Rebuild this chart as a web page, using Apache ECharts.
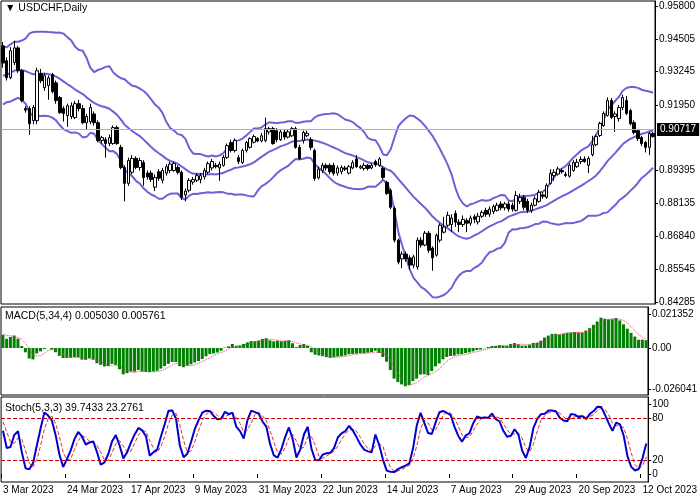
<!DOCTYPE html>
<html><head><meta charset="utf-8">
<script src="https://cdn.jsdelivr.net/npm/echarts@6/dist/echarts.min.js"></script>
<style>html,body{margin:0;padding:0;background:#fff}#c{width:700px;height:500px}</style>
</head><body><div id="c"></div>
<script>
// history before the visible window (used only to warm up the indicators)
const histClose = [0.9250,0.9230,0.9260,0.9210,0.9190,0.9220,0.9240,0.9200,0.9180,0.9150,0.9170,0.9200,0.9230,0.9210,0.9240,0.9250,0.9230,0.9200,0.9180,0.9160,0.9190,0.9230,0.9260,0.9240,0.9270,0.9250,0.9230,0.9260,0.9290,0.9310,0.9280,0.9300,0.9330,0.9310,0.9350,0.9340,0.9370,0.9400,0.9380,0.9420];
// visible candles [open, close, low, high]
const candles = [
[.9425,.9358,.9340,.9440],[.9367,.9301,.9290,.9380],[.9301,.9406,.9295,.9420],[.9360,.9417,.9350,.9445],[.9417,.9328,.9320,.9425],
[.9328,.9212,.9205,.9335],[.9181,.9175,.9165,.9190],[.9181,.9122,.9080,.9190],[.9134,.9185,.9120,.9195],[.9134,.9328,.9120,.9340],
[.9317,.9289,.9280,.9335],[.9262,.9309,.9250,.9320],[.9270,.9300,.9215,.9310],[.9313,.9247,.9240,.9320],[.9281,.9212,.9200,.9290],
[.9224,.9165,.9160,.9230],[.9181,.9162,.9130,.9190],[.9154,.9192,.9110,.9200],[.9150,.9192,.9140,.9205],[.9146,.9200,.9140,.9210],
[.9200,.9181,.9170,.9215],[.9181,.9126,.9120,.9195],[.9126,.9150,.9100,.9160],[.9130,.9185,.9120,.9200],[.9160,.9126,.9115,.9170],
[.9126,.9057,.9050,.9135],[.9057,.9068,.9045,.9075],[.9060,.9045,.8990,.9070],[.9045,.9068,.9035,.9080],[.9045,.9107,.9040,.9115],
[.9107,.9045,.9040,.9115],[.9030,.8952,.8945,.9040],[.8952,.8890,.8820,.8960],[.8890,.8979,.8880,.8990],[.8933,.8987,.8925,.9000],
[.8987,.8952,.8945,.8995],[.8952,.8979,.8940,.8990],[.8971,.8913,.8880,.8980],[.8930,.8915,.8905,.8940],[.8930,.8905,.8895,.8940],
[.8875,.8913,.8860,.8925],[.8935,.8910,.8900,.8945],[.8902,.8940,.8890,.8950],[.8930,.8955,.8920,.8965],[.8940,.8965,.8930,.8975],
[.8940,.8967,.8935,.8975],[.8952,.8933,.8925,.8960],[.8933,.8836,.8825,.8940],[.8845,.8860,.8820,.8870],[.8863,.8902,.8855,.8910],
[.8895,.8905,.8885,.8915],[.8902,.8920,.8895,.8930],[.8905,.8920,.8890,.8930],[.8915,.8940,.8905,.8950],[.8933,.8967,.8925,.8975],
[.8950,.8975,.8940,.8985],[.8960,.8955,.8948,.8970],[.8950,.8965,.8900,.8975],[.8960,.8991,.8955,.9000],[.8991,.9037,.8985,.9045],
[.9049,.9018,.9010,.9060],[.9018,.9057,.9010,.9065],[.8990,.8975,.8965,.9000],[.8971,.9018,.8965,.9025],[.9018,.9049,.9010,.9055],
[.9030,.9064,.9025,.9070],[.9050,.9072,.9045,.9080],[.9065,.9055,.9050,.9070],[.9055,.9075,.9050,.9085],[.9057,.9103,.9050,.9146],
[.9090,.9103,.9080,.9110],[.9103,.9045,.9040,.9110],[.9095,.9060,.9050,.9105],[.9060,.9090,.9055,.9100],[.9090,.9070,.9060,.9098],
[.9070,.9090,.9065,.9100],[.9075,.9103,.9070,.9110],[.9103,.9030,.9025,.9110],[.9030,.8987,.8980,.9040],[.9057,.9088,.9045,.9095],
[.9075,.9085,.9070,.9095],[.9060,.9030,.9020,.9070],[.9018,.8909,.8900,.9025],[.8912,.8945,.8905,.8955],[.8940,.8960,.8930,.8970],
[.8960,.8950,.8940,.8968],[.8960,.8935,.8925,.8968],[.8960,.8929,.8920,.8970],[.8930,.8950,.8920,.8960],[.8935,.8952,.8925,.8960],
[.8950,.8945,.8938,.8958],[.8930,.8955,.8925,.8962],[.8950,.8970,.8945,.8980],[.8985,.8955,.8950,.9000],[.8950,.8955,.8945,.8962],
[.8948,.8960,.8940,.8970],[.8960,.8948,.8940,.8965],[.8950,.8960,.8945,.8968],[.8975,.8962,.8955,.8982],[.8960,.8985,.8955,.8992],
[.8948,.8913,.8905,.8955],[.8894,.8851,.8845,.8900],[.8863,.8797,.8790,.8870],[.8793,.8669,.8660,.8800],[.8669,.8584,.8575,.8675],
[.8596,.8615,.8560,.8625],[.8615,.8596,.8585,.8625],[.8600,.8572,.8555,.8610],[.8572,.8604,.8560,.8612],[.8565,.8669,.8555,.8680],
[.8669,.8650,.8640,.8680],[.8650,.8696,.8645,.8705],[.8696,.8630,.8620,.8705],[.8638,.8600,.8550,.8645],[.8611,.8688,.8605,.8695],
[.8669,.8727,.8660,.8735],[.8700,.8720,.8695,.8760],[.8727,.8766,.8720,.8780],[.8730,.8755,.8700,.8770],[.8773,.8739,.8720,.8785],
[.8739,.8730,.8700,.8750],[.8730,.8750,.8720,.8765],[.8745,.8735,.8700,.8755],[.8735,.8755,.8725,.8765],[.8760,.8750,.8735,.8770],
[.8740,.8762,.8730,.8775],[.8762,.8777,.8755,.8785],[.8785,.8770,.8760,.8795],[.8770,.8790,.8760,.8800],[.8780,.8800,.8770,.8808],
[.8785,.8805,.8780,.8815],[.8810,.8795,.8785,.8820],[.8795,.8810,.8785,.8818],[.8810,.8790,.8780,.8820],[.8805,.8790,.8780,.8815],
[.8785,.8843,.8780,.8860],[.8820,.8835,.8810,.8850],[.8836,.8797,.8785,.8845],[.8820,.8785,.8775,.8830],[.8785,.8805,.8775,.8815],
[.8805,.8830,.8800,.8840],[.8820,.8855,.8815,.8865],[.8845,.8840,.8830,.8855],[.8836,.8882,.8830,.8890],[.8890,.8929,.8885,.8945],
[.8920,.8933,.8900,.8945],[.8926,.8946,.8920,.8955],[.8940,.8935,.8928,.8948],[.8925,.8921,.8915,.8935],[.8918,.8960,.8912,.8968],
[.8940,.8971,.8935,.8980],[.8955,.8972,.8950,.8985],[.8975,.8983,.8965,.8995],[.8985,.8975,.8970,.8995],[.8960,.8987,.8930,.8995],
[.9002,.9040,.8995,.9075],[.9040,.9072,.9035,.9080],[.9076,.9123,.9070,.9130],[.9115,.9162,.9110,.9170],[.9154,.9212,.9150,.9225],
[.9212,.9146,.9140,.9222],[.9150,.9160,.9090,.9170],[.9142,.9185,.9130,.9195],[.9185,.9224,.9175,.9235],[.9212,.9162,.9155,.9230],
[.9173,.9122,.9115,.9180],[.9126,.9088,.9080,.9135],[.9095,.9064,.9055,.9100],[.9068,.9045,.9035,.9075],[.9049,.9030,.9010,.9055],
[.9030,.9084,.9000,.9090],[.9084,.9072,.9068,.9090]
];
const tickLabels = ['3 Mar 2023','24 Mar 2023','17 Apr 2023','9 May 2023','31 May 2023','22 Jun 2023','14 Jul 2023','7 Aug 2023','29 Aug 2023','20 Sep 2023','12 Oct 2023'];
const tickIdx = [0,17,34,51,68,85,102,119,136,153,170];
const priceTicks = [0.958,0.94505,0.93245,0.9195,0.89395,0.88135,0.8684,0.85545,0.84285];
const lastPrice = 0.90717;
const macdTicks = [0.021352,0,-0.026041];
const stochTicks = [100,80,20,0];

// ---- indicators computed from the candles ----
const allC=[],allH=[],allL=[];
histClose.forEach((c,i)=>{const o=i?histClose[i-1]:c;allC.push(c);allH.push(Math.max(o,c)+0.0015);allL.push(Math.min(o,c)-0.0015);});
candles.forEach(k=>{allC.push(k[1]);allL.push(k[2]);allH.push(k[3]);});
const N=allC.length, off=histClose.length;
const up=[],mid=[],lo=[];
for(let i=0;i<N;i++){const s=allC.slice(Math.max(0,i-19),i+1);const m=s.reduce((a,b)=>a+b,0)/s.length;const sd=Math.sqrt(s.reduce((a,b)=>a+(b-m)*(b-m),0)/s.length);mid.push(m);up.push(m+2*sd);lo.push(m-2*sd);}
function ema(p){const a=2/(p+1);const r=[];allC.forEach((c,i)=>r.push(i?a*c+(1-a)*r[i-1]:c));return r;}
const e5=ema(5),e34=ema(34);const macd=e5.map((v,i)=>v-e34[i]);
const sig=macd.map((v,i)=>{const s=macd.slice(Math.max(0,i-3),i+1);return s.reduce((a,b)=>a+b,0)/s.length;});
const num=[],den=[];
for(let i=0;i<N;i++){const hh=Math.max(...allH.slice(Math.max(0,i-4),i+1));const ll=Math.min(...allL.slice(Math.max(0,i-4),i+1));num.push(allC[i]-ll);den.push(hh-ll);}
const K=[];for(let i=0;i<N;i++){let a=0,b=0;for(let j=Math.max(0,i-2);j<=i;j++){a+=num[j];b+=den[j];}K.push(b?a/b*100:50);}
const D=K.map((v,i)=>{const s=K.slice(Math.max(0,i-2),i+1);return s.reduce((a,b)=>a+b,0)/s.length;});
const vis=a=>a.slice(off);
const cats=candles.map((_,i)=>String(i));

const F='Liberation Sans';
const lab={fontFamily:F,fontSize:10,color:'#000'};
const gridDef=(top,h)=>({left:1,right:45,top:top,height:h,show:true,borderColor:'#000',borderWidth:1,backgroundColor:'#fff'});
const xa=(gi,show)=>({type:'category',gridIndex:gi,data:cats,boundaryGap:true,axisLine:{show:false},
  axisTick:{show:show,length:4,interval:(i)=>tickIdx.includes(i),lineStyle:{color:'#000'}},
  axisLabel:{show:show,interval:(i)=>tickIdx.includes(i),formatter:(v,i)=>{const k=tickIdx.indexOf(+v);return k>=0?tickLabels[k]:'';},align:'left',margin:3,...lab}});
const ya=(gi,min,max,vals,fmt)=>({type:'value',gridIndex:gi,position:'right',min:min,max:max,splitLine:{show:false},
  axisLine:{show:true,lineStyle:{color:'#000'}},axisTick:{show:true,length:3,customValues:vals,lineStyle:{color:'#000'}},
  axisLabel:{customValues:vals,formatter:fmt,margin:4,...lab}});

const chart=echarts.init(document.getElementById('c'),null,{renderer:'canvas'});
chart.setOption({
  animation:false,backgroundColor:'#fff',
  grid:[gridDef(1,303),gridDef(307,88),gridDef(397,85)],
  xAxis:[xa(0,false),xa(1,false),xa(2,true)],
  yAxis:[ya(0,0.84207,0.95994,priceTicks,v=>v.toFixed(5)),
         ya(1,-0.02952,0.02575,macdTicks,v=>v===0?'0.00':v.toFixed(6)),
         ya(2,-11.4,110,stochTicks,v=>String(v))],
  graphic:[
    {type:'text',left:5,top:3,style:{text:'▼ USDCHF,Daily',fontFamily:F,fontSize:10.5,fill:'#000'}},
    {type:'text',left:5,top:311,style:{text:'MACD(5,34,4) 0.005030 0.005761',fontFamily:F,fontSize:10.5,fill:'#000'}},
    {type:'text',left:5,top:403,style:{text:'Stoch(5,3,3) 39.7433 23.2761',fontFamily:F,fontSize:10.5,fill:'#000'}}
  ],
  series:[
    {type:'line',xAxisIndex:0,yAxisIndex:0,data:vis(up),symbol:'none',lineStyle:{color:'#7060d8',width:2},z:2},
    {type:'line',xAxisIndex:0,yAxisIndex:0,data:vis(mid),symbol:'none',lineStyle:{color:'#7060d8',width:2},z:2},
    {type:'line',xAxisIndex:0,yAxisIndex:0,data:vis(lo),symbol:'none',lineStyle:{color:'#7060d8',width:2},z:2},
    {type:'candlestick',xAxisIndex:0,yAxisIndex:0,data:candles,barWidth:3,z:3,
      itemStyle:{color:'#fff',color0:'#000',borderColor:'#000',borderColor0:'#000',borderWidth:1},
      markLine:{silent:true,symbol:'none',data:[{yAxis:lastPrice}],lineStyle:{color:'#b0b0b0',width:1,type:'solid'},
        label:{position:'end',formatter:lastPrice.toFixed(5),backgroundColor:'#000',color:'#fff',fontFamily:F,fontSize:10,padding:[2,3,1,3],distance:2}}},
    {type:'bar',xAxisIndex:1,yAxisIndex:1,data:vis(macd),barWidth:3,itemStyle:{color:'#008000'}},
    {type:'line',xAxisIndex:1,yAxisIndex:1,data:vis(sig),symbol:'none',lineStyle:{color:'#e04070',width:1,type:'dotted'}},
    {type:'line',xAxisIndex:2,yAxisIndex:2,data:vis(D),symbol:'none',lineStyle:{color:'#e03030',width:1,type:'dashed'}},
    {type:'line',xAxisIndex:2,yAxisIndex:2,data:vis(K),symbol:'none',lineStyle:{color:'#0000d0',width:2},
      markLine:{silent:true,symbol:'none',label:{show:false},lineStyle:{color:'#c00000',width:1,type:'dashed'},data:[{yAxis:80},{yAxis:20}]}}
  ]
});
</script></body></html>
